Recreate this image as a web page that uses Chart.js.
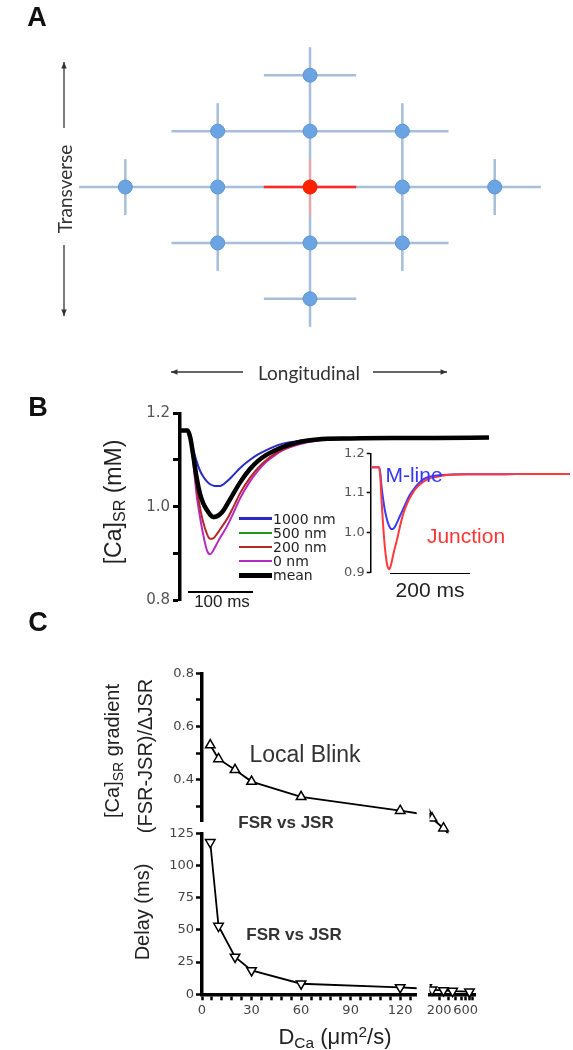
<!DOCTYPE html>
<html>
<head>
<meta charset="utf-8">
<script src="https://cdn.jsdelivr.net/npm/chart.js@4.4.1/dist/chart.umd.min.js"></script>
<style>
html, body { margin: 0; padding: 0; background: #fff; }
#fig { position: relative; width: 573px; height: 1050px; overflow: hidden; font-family: "Liberation Sans", Arial, sans-serif; color: #222; }
#fig canvas { position: absolute; }
.t { position: absolute; white-space: nowrap; line-height: 1; transform: translate(-50%, -50%); }
.rot { transform: translate(-50%, -50%) rotate(-90deg); }
.panel { font-weight: bold; font-size: 27px; color: #111; }
.lato { font-family: Lato, "Open Sans", sans-serif; font-size: 19px; color: #333; }
.leg { position: absolute; white-space: nowrap; line-height: 1; transform: translateY(-50%); font-family: "DejaVu Sans", sans-serif; font-size: 14px; color: #222; }
.swatch { position: absolute; }
.bar { position: absolute; background: #000; }
sub { font-size: 70%; vertical-align: -0.25em; line-height: 0; }
sup { font-size: 70%; vertical-align: 0.45em; line-height: 0; }
</style>
</head>
<body>
<div id="fig">
  <canvas id="cA" width="573" height="390" style="left:0;top:0"></canvas>
  <canvas id="cB" width="450" height="220" style="left:60px;top:395px"></canvas>
  <canvas id="cIn" width="253" height="145" style="left:320px;top:440px"></canvas>
  <canvas id="cTopL" width="330" height="180" style="left:100px;top:660px"></canvas>
  <canvas id="cTopR" width="70" height="180" style="left:415px;top:660px"></canvas>
  <canvas id="cBotL" width="330" height="225" style="left:100px;top:820px"></canvas>
  <canvas id="cBotR" width="70" height="225" style="left:415px;top:820px"></canvas>

  <div class="t panel" style="left:37px;top:17px">A</div>
  <div class="t rot lato" style="left:64px;top:189px">Transverse</div>
  <div class="t lato" style="left:309px;top:372px">Longitudinal</div>

  <div class="t panel" style="left:38px;top:407px">B</div>
  <div class="t rot" style="left:113px;top:502px;font-size:23px">[Ca]<sub>SR</sub> (mM)</div>
  <div class="bar" style="left:188px;top:591px;width:65px;height:2px"></div>
  <div class="t" style="left:222px;top:601px;font-size:17px">100 ms</div>
  <div class="bar" style="left:390px;top:572.5px;width:80px;height:1.5px"></div>
  <div class="t" style="left:430px;top:589px;font-size:21px">200 ms</div>
  <div class="t" style="left:414px;top:474px;font-size:21px;color:#3535ff">M-line</div>
  <div class="t" style="left:466px;top:535px;font-size:21px;color:#ff3535">Junction</div>
  <div id="legend"></div>

  <div class="t panel" style="left:38px;top:622px">C</div>
  <div class="t rot" style="left:112px;top:751px;font-size:20px">[Ca]<sub>SR</sub> gradient</div>
  <div class="t rot" style="left:145px;top:756px;font-size:20px">(FSR-JSR)/ΔJSR</div>
  <div class="t" style="left:305px;top:754px;font-size:23px;color:#333">Local Blink</div>
  <div class="t" style="left:286px;top:822px;font-size:17px;font-weight:bold;color:#333">FSR vs JSR</div>
  <div class="t" style="left:294px;top:934px;font-size:17px;font-weight:bold;color:#333">FSR vs JSR</div>
  <div class="t rot" style="left:142px;top:912px;font-size:20px">Delay (ms)</div>
  <div class="t" style="left:335px;top:1037px;font-size:22px">D<sub>Ca</sub> (μm<sup>2</sup>/s)</div>
</div>

<script>
// ---- panel A: lattice of release sites (grid units) ----
const nodeX = [0, -1, 0, 1, -2, -1, 1, 2, -1, 0, 1, 0];
const nodeY = [2, 1, 1, 1, 0, 0, 0, 0, -1, -1, -1, -2];
const hubX = [0];
const hubY = [0];
const rowY = [2, 1, 0, -1, -2];
const rowHalf = [0.5, 1.5, 2.5, 1.5, 0.5];
const colX = [-2, -1, 0, 1, 2];
const colHalf = [0.5, 1.5, 2.5, 1.5, 0.5];

// ---- panel B: [Ca]SR time courses ----
const tB = [0, 12, 16, 21, 26, 31, 36, 42, 47, 52, 57, 62, 68, 75, 83, 94, 109, 122, 135, 148, 161, 188, 214, 266, 330, 400, 483];
const ca1000 = [1.163, 1.163, 1.155, 1.121, 1.097, 1.078, 1.065, 1.054, 1.048, 1.045, 1.044, 1.044, 1.048, 1.056, 1.067, 1.083, 1.100, 1.112, 1.121, 1.129, 1.135, 1.141, 1.144, 1.146, 1.147, 1.147, 1.148];
const ca500 = [1.163, 1.163, 1.147, 1.104, 1.058, 1.025, 1.004, 0.989, 0.979, 0.975, 0.976, 0.980, 0.990, 1.006, 1.025, 1.051, 1.079, 1.097, 1.110, 1.119, 1.127, 1.138, 1.143, 1.146, 1.147, 1.147, 1.148];
const ca200 = [1.163, 1.163, 1.145, 1.100, 1.040, 1.000, 0.968, 0.942, 0.931, 0.932, 0.940, 0.950, 0.962, 0.977, 0.998, 1.029, 1.061, 1.083, 1.100, 1.113, 1.123, 1.136, 1.142, 1.146, 1.147, 1.147, 1.148];
const ca0 = [1.163, 1.163, 1.143, 1.090, 1.025, 0.980, 0.942, 0.907, 0.898, 0.906, 0.919, 0.932, 0.945, 0.962, 0.985, 1.018, 1.053, 1.077, 1.096, 1.110, 1.121, 1.134, 1.141, 1.145, 1.147, 1.147, 1.148];
const caMean = [1.163, 1.163, 1.148, 1.107, 1.062, 1.029, 1.008, 0.993, 0.983, 0.978, 0.979, 0.983, 0.992, 1.008, 1.027, 1.052, 1.080, 1.098, 1.111, 1.120, 1.128, 1.139, 1.144, 1.146, 1.147, 1.147, 1.148];
const legendLabels = ['1000 nm', '500 nm', '200 nm', '0 nm', 'mean'];
const bTicks = [0.8, 0.9, 1.0, 1.1, 1.2];

// inset
const tIn = [0, 21, 24, 27, 31, 35, 39, 42, 46, 50, 55, 60, 66, 73, 81, 88, 96, 104, 111, 126, 141, 166, 191, 240, 320, 400, 498];
const mLine = [1.165, 1.165, 1.150, 1.117, 1.085, 1.059, 1.040, 1.028, 1.017, 1.010, 1.009, 1.014, 1.026, 1.042, 1.059, 1.075, 1.092, 1.104, 1.114, 1.130, 1.139, 1.144, 1.146, 1.147, 1.147, 1.148, 1.148];
const junction = [1.165, 1.165, 1.140, 1.084, 1.020, 0.968, 0.932, 0.915, 0.908, 0.916, 0.938, 0.960, 0.983, 1.015, 1.046, 1.066, 1.084, 1.098, 1.109, 1.124, 1.134, 1.141, 1.145, 1.147, 1.147, 1.148, 1.148];
const inTicks = [0.9, 1.0, 1.1, 1.2];

// ---- panel C: vs D_Ca ----
const dCa = [5, 10, 20, 30, 60, 120, 150, 240, 350, 700];
const gradient = [0.531, 0.479, 0.438, 0.394, 0.337, 0.285, 0.256, 0.219, 0.18, 0.15];
const delay = [118, 53, 29, 18.5, 8.2, 5.3, 3.5, 3, 2.5, 2];
const gradTicks = [0.3, 0.4, 0.5, 0.6, 0.7, 0.8];
const delayTicks = [0, 12.5, 25, 37.5, 50, 62.5, 75, 87.5, 100, 112.5, 125];
const dLinTicks = [0, 6, 12, 18, 24, 30, 36, 42, 48, 54, 60, 66, 72, 78, 84, 90, 96, 102, 108, 114, 120, 126];
const dLogTicks = [200, 300, 400, 500, 600, 700, 800];

Chart.defaults.font.family = 'DejaVu Sans';
const zip = (xs, ys) => xs.map((x, i) => ({ x: x, y: ys[i] }));
const base = {
  responsive: false, animation: false, devicePixelRatio: 1, events: [],
  plugins: { legend: { display: false }, tooltip: { enabled: false } }
};
function cfg(datasets, scales, padding, extraPlugins) {
  return {
    type: 'scatter',
    data: { datasets: datasets },
    options: Object.assign({}, base, { layout: { padding: padding }, scales: scales }),
    plugins: extraPlugins || []
  };
}
function axisY(opts) {
  return Object.assign({
    ticks: { color: '#444', padding: 2, font: { size: 13 } },
    grid: { drawOnChartArea: false, tickLength: 6, tickWidth: 2.5, tickColor: '#000' },
    border: { display: true, width: 3.5, color: '#000' }
  }, opts);
}

// ---- panel A ----
const latticeSets = [];
rowY.forEach((y, i) => latticeSets.push({ data: [{ x: -rowHalf[i], y: y }, { x: rowHalf[i], y: y }] }));
colX.forEach((x, i) => latticeSets.push({ data: [{ x: x, y: -colHalf[i] }, { x: x, y: colHalf[i] }] }));
latticeSets.forEach(d => Object.assign(d, { showLine: true, borderColor: '#a6bed8', borderWidth: 2.5, pointRadius: 0, order: 3 }));
const redSets = [
  { data: [{ x: -0.5, y: 0 }, { x: 0.5, y: 0 }], borderColor: '#ff2a2a', borderWidth: 2.5 },
  { data: [{ x: 0, y: -0.5 }, { x: 0, y: 0.5 }], borderColor: '#f4a0a0', borderWidth: 2 }
];
redSets.forEach(d => Object.assign(d, { showLine: true, pointRadius: 0, order: 2 }));

function drawArrow(ctx, x1, y1, x2, y2) {
  const a = Math.atan2(y2 - y1, x2 - x1), h = 7;
  ctx.beginPath(); ctx.moveTo(x1, y1); ctx.lineTo(x2, y2); ctx.stroke();
  ctx.beginPath();
  ctx.moveTo(x2, y2);
  ctx.lineTo(x2 - h * Math.cos(a - 0.4), y2 - h * Math.sin(a - 0.4));
  ctx.lineTo(x2 - h * Math.cos(a + 0.4), y2 - h * Math.sin(a + 0.4));
  ctx.closePath(); ctx.fill();
}
const arrowsPlugin = {
  id: 'arrows',
  afterDraw(chart) {
    const ctx = chart.ctx;
    ctx.save();
    ctx.strokeStyle = '#333'; ctx.fillStyle = '#333'; ctx.lineWidth = 1.3;
    drawArrow(ctx, 64, 128, 64, 62);
    drawArrow(ctx, 64, 245, 64, 316);
    drawArrow(ctx, 243, 372, 171, 372);
    drawArrow(ctx, 373, 372, 447, 372);
    ctx.restore();
  }
};
new Chart(document.getElementById('cA'), cfg(
  latticeSets.concat(redSets, [
    { data: zip(nodeX, nodeY), pointRadius: 7, backgroundColor: '#6ba4e2', borderColor: '#5d95d3', borderWidth: 1, order: 1 },
    { data: zip(hubX, hubY), pointRadius: 7, backgroundColor: '#ff2000', borderColor: '#f01800', borderWidth: 1, order: 0 }
  ]),
  {
    x: { type: 'linear', display: false, min: -3.2705, max: 2.7611 },
    y: { type: 'linear', display: false, min: -3.4871, max: 3.2024 }
  },
  0, [arrowsPlugin]
));

// ---- panel B main ----
const bSeries = [
  { d: caMean, c: '#000000', w: 4.5 },
  { d: ca1000, c: '#2a2ac6', w: 2 },
  { d: ca500, c: '#1f9a1f', w: 2 },
  { d: ca200, c: '#b42828', w: 2 },
  { d: ca0, c: '#b52bc0', w: 2 }
];
new Chart(document.getElementById('cB'), cfg(
  bSeries.map((s, i) => ({
    data: zip(tB, s.d), showLine: true, borderColor: s.c, borderWidth: s.w,
    pointRadius: 0, cubicInterpolationMode: 'monotone', order: i === 0 ? 0 : 1 + i
  })),
  {
    x: { type: 'linear', display: false, min: 0, max: 483 },
    y: axisY({
      min: 0.8, max: 1.2,
      afterFit: s => { s.width = 120; },
      afterBuildTicks: s => { s.ticks = bTicks.map(v => ({ value: v })); },
      ticks: { color: '#555', padding: 3, font: { size: 15 }, callback: v => (Math.round(v * 10) % 2 === 0 ? v.toFixed(1) : '') },
      grid: { drawOnChartArea: false, tickLength: 7, tickWidth: 3, tickColor: '#000' }
    })
  },
  { top: 18.3, right: 21, bottom: 15, left: 0 }
));

// legend for panel B
const legend = document.getElementById('legend');
const legRows = [518.5, 533, 547, 561, 575];
const legStyle = [bSeries[1], bSeries[2], bSeries[3], bSeries[4], bSeries[0]];
legendLabels.forEach((lab, i) => {
  const sw = document.createElement('div');
  sw.className = 'swatch';
  const w = i === 4 ? 5 : 2.5;
  sw.style.cssText = `left:239px;top:${legRows[i] - w / 2}px;width:33px;height:${w}px;background:${legStyle[i].c}`;
  legend.appendChild(sw);
  const tx = document.createElement('div');
  tx.className = 'leg';
  tx.style.left = '273px';
  tx.style.top = legRows[i] + 'px';
  tx.textContent = lab;
  legend.appendChild(tx);
});

// ---- panel B inset ----
new Chart(document.getElementById('cIn'), cfg(
  [
    { data: zip(tIn, mLine), showLine: true, borderColor: '#3a3aff', borderWidth: 2, pointRadius: 0, cubicInterpolationMode: 'monotone', order: 1 },
    { data: zip(tIn, junction), showLine: true, borderColor: '#ff3a3a', borderWidth: 2, pointRadius: 0, cubicInterpolationMode: 'monotone', order: 0 }
  ],
  {
    x: { type: 'linear', display: false, min: 0, max: 500 },
    y: axisY({
      min: 0.9, max: 1.2,
      afterFit: s => { s.width = 50.7; },
      afterBuildTicks: s => { s.ticks = inTicks.map(v => ({ value: v })); },
      ticks: { color: '#555', padding: 2, font: { size: 13 }, callback: v => v.toFixed(1) },
      grid: { drawOnChartArea: false, tickLength: 4, tickWidth: 1.5, tickColor: '#000' },
      border: { display: true, width: 1.5, color: '#000' }
    })
  },
  { top: 13.3, right: 2.3, bottom: 12.7, left: 0 }
));

// ---- panel C ----
const markerUp = { pointStyle: 'triangle', pointRadius: 5.5, pointBackgroundColor: '#fff', pointBorderColor: '#000', pointBorderWidth: 1.5, borderColor: '#000', borderWidth: 1.8, showLine: true };
const markerDown = Object.assign({}, markerUp, { pointRotation: 180 });
const gradY = {
  min: 0.2435, max: 0.8,
  afterFit: s => { s.width = 102; },
  afterBuildTicks: s => { s.ticks = gradTicks.map(v => ({ value: v })); },
  ticks: { color: '#444', padding: 2, font: { size: 13 }, callback: v => (Math.round(v * 10) % 2 === 0 ? v.toFixed(1) : '') }
};
const delayY = {
  min: 0, max: 125,
  afterFit: s => { s.width = 102; },
  afterBuildTicks: s => { s.ticks = delayTicks.map(v => ({ value: v })); },
  ticks: { color: '#444', padding: 2, font: { size: 13 }, callback: v => (v % 25 === 0 ? String(v) : '') }
};
const xLin = {
  type: 'linear', min: 0, max: 130,
  afterFit: s => { s.height = 50.7; },
  afterBuildTicks: s => { s.ticks = dLinTicks.map(v => ({ value: v })); },
  ticks: { color: '#444', padding: 3, font: { size: 13 }, autoSkip: false, maxRotation: 0, minRotation: 0, callback: v => (v % 30 === 0 ? String(v) : '') },
  grid: { drawOnChartArea: false, tickLength: 6, tickWidth: 2.5, tickColor: '#000' },
  border: { display: true, width: 3.5, color: '#000' }
};
const xLog = {
  type: 'logarithmic', min: 135, max: 880,
  afterFit: s => { s.height = 50.7; },
  afterBuildTicks: s => { s.ticks = dLogTicks.map(v => ({ value: v })); },
  ticks: { color: '#444', padding: 3, font: { size: 13 }, autoSkip: false, maxRotation: 0, minRotation: 0, callback: v => (v === 200 || v === 600 ? String(v) : '') },
  grid: { drawOnChartArea: false, tickLength: 6, tickWidth: 2.5, tickColor: '#000' },
  border: { display: true, width: 3.5, color: '#000' }
};

new Chart(document.getElementById('cTopL'), cfg(
  [Object.assign({ data: zip(dCa, gradient), clip: { left: false, top: false, right: 0, bottom: 11.6 } }, markerUp)],
  { x: { type: 'linear', display: false, min: 0, max: 130 }, y: axisY(gradY) },
  { top: 13.3, right: 13.3, bottom: 18.3, left: 0 }
));
new Chart(document.getElementById('cTopR'), cfg(
  [Object.assign({ data: zip(dCa, gradient), clip: { left: 0, top: false, right: false, bottom: 11.6 } }, markerUp)],
  { x: { type: 'logarithmic', display: false, min: 135, max: 880 }, y: { display: false, min: 0.2435, max: 0.8 } },
  { top: 13.3, right: 10, bottom: 18.3, left: 14.5 }
));
new Chart(document.getElementById('cBotL'), cfg(
  [Object.assign({ data: zip(dCa, delay), clip: { left: false, top: false, right: 0, bottom: false } }, markerDown)],
  { x: xLin, y: axisY(delayY) },
  { top: 13.3, right: 13.3, bottom: 0, left: 0 }
));
new Chart(document.getElementById('cBotR'), cfg(
  [Object.assign({ data: zip(dCa, delay), clip: { left: 0, top: false, right: false, bottom: false } }, markerDown)],
  { x: xLog, y: { display: false, min: 0, max: 125 } },
  { top: 13.3, right: 10, bottom: 0, left: 14.5 }
));
</script>
</body>
</html>
